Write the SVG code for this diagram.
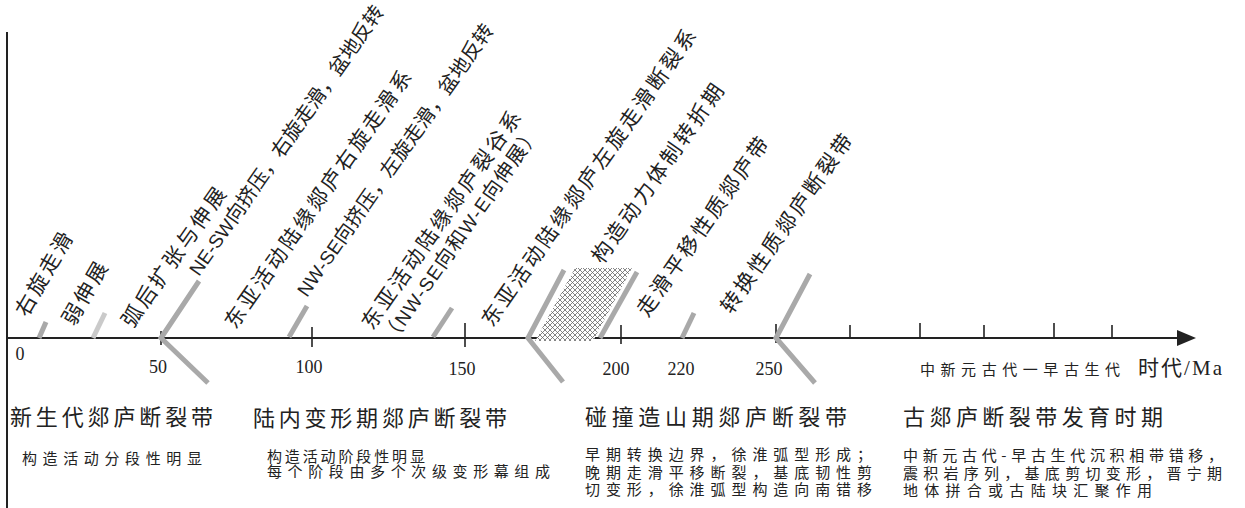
<svg xmlns="http://www.w3.org/2000/svg" width="1245" height="508" viewBox="0 0 1245 508">
<style>
.ax{stroke:#222;stroke-width:2;fill:none}
.tk{stroke:#222;stroke-width:1.6}
.g{stroke:#a9a9a9;stroke-width:5;fill:none;stroke-linecap:butt}
.gl{stroke:#cacaca;stroke-width:5;fill:none}
.num{font-family:"Liberation Serif",serif;font-size:18px;fill:#222;text-anchor:middle}
.rt{font-family:"Liberation Sans","Noto Sans CJK SC",sans-serif;font-size:21px;fill:#222;letter-spacing:3px}
.rs{font-family:"Liberation Sans","Noto Sans CJK SC",sans-serif;font-size:20px;fill:#222}
.lat{font-size:19px}
.h{font-family:"Noto Sans CJK SC",sans-serif;font-size:22px;fill:#222}
.s{font-family:"Noto Sans CJK SC",sans-serif;font-size:15px;fill:#222}
.u{font-family:"Liberation Serif","Noto Sans CJK SC",serif;font-size:21px;fill:#222}
</style>
<defs>
<pattern id="hatch" patternUnits="userSpaceOnUse" width="5" height="5">
<rect width="5" height="5" fill="#fff"/>
<path d="M0,0L5,5M5,0L0,5" stroke="#666" stroke-width="0.8"/>
</pattern>
</defs>
<rect width="1245" height="508" fill="#fff"/>
<g id="connectors">
<line class="ax" x1="7" y1="32" x2="7" y2="508"/>
<line class="ax" x1="7" y1="338" x2="1180" y2="338"/>
<path d="M1177,330L1196,338L1177,346Z" fill="#222"/>
<g class="tk">
<line x1="161" y1="331" x2="161" y2="345"/>
<line x1="312" y1="327" x2="312" y2="347"/>
<line x1="465" y1="323" x2="465" y2="347"/>
<line x1="621" y1="325" x2="621" y2="344"/>
<line x1="776" y1="324" x2="776" y2="343"/>
<line x1="850" y1="325" x2="850" y2="338"/>
<line x1="920" y1="323" x2="920" y2="338"/>
<line x1="984" y1="325" x2="984" y2="338"/>
<line x1="1054" y1="323" x2="1054" y2="338"/>
<line x1="1112" y1="325" x2="1112" y2="338"/>
</g>
</g>
<g id="axis-labels">
<text class="num" x="20" y="360">0</text>
<text class="num" x="158" y="373">50</text>
<text class="num" x="309" y="373">100</text>
<text class="num" x="462" y="375">150</text>
<text class="num" x="616" y="375">200</text>
<text class="num" x="681" y="375">220</text>
<text class="num" x="769" y="375">250</text>
<text class="s" x="920" y="375" font-size="16" textLength="200" lengthAdjust="spacing">中新元古代一早古生代</text>
<text class="u" x="1138" y="375" textLength="84" lengthAdjust="spacing">时代/Ma</text>
</g>
<g id="events">
<line class="g" x1="39" y1="338" x2="46" y2="322"/>
<line class="gl" x1="93" y1="338" x2="105" y2="313"/>
<polyline class="g" points="199,281 161,338 208,383"/>
<line class="g" x1="289" y1="337" x2="307" y2="306"/>
<line class="g" x1="433" y1="337" x2="452" y2="308"/>
<path d="M575,268L632,268L593,341L535,341Z" fill="url(#hatch)"/>
<polyline class="g" points="564,270 528,338 563,382"/>
<line class="g" x1="600" y1="338" x2="637" y2="272"/>
<line class="g" x1="682" y1="338" x2="694" y2="313"/>
<polyline class="g" points="810,274 776,338 815,383"/>
</g>
<g id="t1"><text class="rt" transform="translate(27,318) rotate(-60)">右旋走滑</text></g>
<g id="t2"><text class="rt" transform="translate(74,327) rotate(-60)">弱伸展</text></g>
<g id="t3"><text class="rt" transform="translate(132.5,329) rotate(-55)">弧后扩张与伸展</text></g>
<g id="t4"><text class="rs" transform="translate(199,277) rotate(-55)" textLength="324" lengthAdjust="spacing"><tspan class="lat">NE-SW</tspan>向挤压，右旋走滑，盆地反转</text></g>
<g id="t5"><text class="rt" transform="translate(235.5,330) rotate(-55)">东亚活动陆缘郯庐右旋走滑系</text></g>
<g id="t6"><text class="rs" transform="translate(307,298) rotate(-55)" textLength="327" lengthAdjust="spacing"><tspan class="lat">NW-SE</tspan>向挤压，左旋走滑，盆地反转</text></g>
<g id="t7" transform="translate(372.5,331) rotate(-55)">
<text class="rt" x="0" y="0">东亚活动陆缘郯庐裂谷系</text>
<text class="rs" x="0" y="24" textLength="258" lengthAdjust="spacing">（<tspan class="lat">NW-SE</tspan>向和<tspan class="lat">W-E</tspan>向伸展）</text>
</g>
<g id="t8"><text class="rt" transform="translate(492.5,328) rotate(-55)">东亚活动陆缘郯庐左旋走滑断裂系</text></g>
<g id="t9"><text class="rt" transform="translate(602.5,265) rotate(-55)">构造动力体制转折期</text></g>
<g id="t10"><text class="rt" transform="translate(647.5,318) rotate(-55)">走滑平移性质郯庐带</text></g>
<g id="t11"><text class="rt" transform="translate(731.5,315) rotate(-55)">转换性质郯庐断裂带</text></g>
<g id="p1">
<text class="h" x="10" y="425" textLength="203" lengthAdjust="spacing">新生代郯庐断裂带</text>
<text class="s" x="22" y="464" textLength="180" lengthAdjust="spacing">构造活动分段性明显</text>
</g>
<g id="p2">
<text class="h" x="253" y="426" textLength="254" lengthAdjust="spacing">陆内变形期郯庐断裂带</text>
<text class="s" x="267" y="462" textLength="158" lengthAdjust="spacing">构造活动阶段性明显</text>
<text class="s" x="267" y="477" textLength="283" lengthAdjust="spacing">每个阶段由多个次级变形幕组成</text>
</g>
<g id="p3">
<text class="h" x="585" y="425" textLength="262" lengthAdjust="spacing">碰撞造山期郯庐断裂带</text>
<text class="s" x="585" y="460" textLength="287" lengthAdjust="spacing">早期转换边界，徐淮弧型形成；</text>
<text class="s" x="585" y="478" textLength="287" lengthAdjust="spacing">晚期走滑平移断裂，基底韧性剪</text>
<text class="s" x="585" y="495" textLength="287" lengthAdjust="spacing">切变形，徐淮弧型构造向南错移</text>
</g>
<g id="p4">
<text class="h" x="903" y="425" textLength="260" lengthAdjust="spacing">古郯庐断裂带发育时期</text>
<text class="s" x="903" y="461" textLength="320" lengthAdjust="spacing">中新元古代-早古生代沉积相带错移，</text>
<text class="s" x="903" y="479" textLength="319" lengthAdjust="spacing">震积岩序列，基底剪切变形，晋宁期</text>
<text class="s" x="903" y="496" textLength="249" lengthAdjust="spacing">地体拼合或古陆块汇聚作用</text>
</g>
</svg>
